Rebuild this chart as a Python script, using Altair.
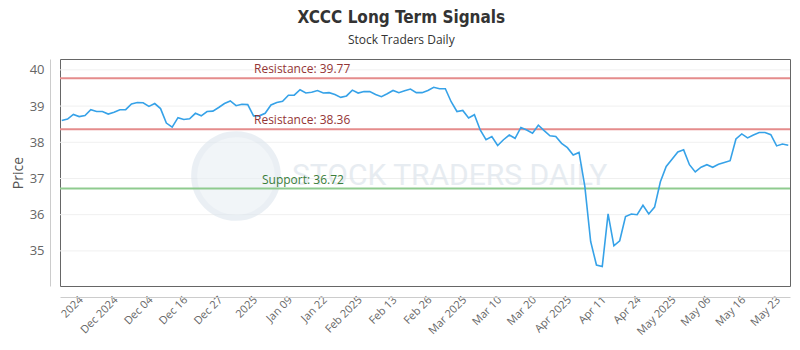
import altair as alt
import pandas as pd

prices = [
    38.60, 38.64, 38.77, 38.71, 38.74, 38.90, 38.85, 38.85, 38.78, 38.83,
    38.90, 38.90, 39.06, 39.10, 39.09, 38.99, 39.07, 38.93, 38.53, 38.42,
    38.68, 38.63, 38.65, 38.80, 38.73, 38.85, 38.86, 38.96, 39.07, 39.14,
    39.01, 39.05, 39.04, 38.73, 38.73, 38.80, 39.03, 39.10, 39.13, 39.30,
    39.30, 39.45, 39.36, 39.38, 39.43, 39.36, 39.37, 39.32, 39.24, 39.28,
    39.44, 39.36, 39.40, 39.40, 39.32, 39.26, 39.34, 39.43, 39.37, 39.42,
    39.47, 39.37, 39.37, 39.43, 39.52, 39.48, 39.48, 39.12, 38.85, 38.88,
    38.67, 38.76, 38.34, 38.07, 38.16, 37.91, 38.07, 38.20, 38.11, 38.41,
    38.34, 38.25, 38.47, 38.32, 38.18, 38.16, 37.97, 37.85, 37.65, 37.72,
    36.78, 35.26, 34.61, 34.57, 36.02, 35.14, 35.28, 35.95, 36.02, 36.00,
    36.26, 36.02, 36.21, 36.91, 37.33, 37.53, 37.73, 37.79, 37.38, 37.18,
    37.31, 37.38, 37.31, 37.39, 37.44, 37.49, 38.09, 38.23, 38.12, 38.20,
    38.27, 38.27, 38.21, 37.90, 37.95, 37.92,
]

tick_index = [4, 10, 16, 22, 28, 34, 40, 46, 52, 58, 64, 70, 76, 82, 88, 94, 100, 106, 112, 118, 124]
tick_labels = ["2024", "Dec 2024", "Dec 04", "Dec 16", "Dec 27", "2025", "Jan 09", "Jan 22",
               "Feb 2025", "Feb 13", "Feb 26", "Mar 2025", "Mar 10", "Mar 20", "Apr 2025",
               "Apr 11", "Apr 24", "May 2025", "May 06", "May 16", "May 23"]

resistance_values = [39.77, 38.36]
resistance_labels = ["Resistance: 39.77", "Resistance: 38.36"]
support_values = [36.72]
support_labels = ["Support: 36.72"]
grid_values = [35, 36, 37, 38, 39, 40]

df = pd.DataFrame({"i": list(range(len(prices))), "price": prices})
res_df = pd.DataFrame({"value": resistance_values, "label": resistance_labels})
sup_df = pd.DataFrame({"value": support_values, "label": support_labels})
grid_df = pd.DataFrame({"value": grid_values})

label_array = "[" + ",".join("'" + t + "'" for t in tick_labels) + "]"
label_expr = label_array + "[round((datum.value - 4) / 6)]"

xscale = alt.Scale(domain=[-0.3, 125.3], nice=False, zero=False)
yscale = alt.Scale(domain=[34.03, 40.30], nice=False, zero=False)

FONT = "Open Sans"

x_axis = alt.Axis(
    values=tick_index, labelExpr=label_expr, labelAngle=-45, labelAlign="right",
    labelBaseline="middle", labelFontSize=11, labelColor="#666", labelFont=FONT,
    ticks=False, grid=False, domainColor="#ccc", offset=11, title=None, labelPadding=1,
    labelOffset=-4, labelOverlap=False, labelBound=False, labelFlush=False,
)
y_axis = alt.Axis(
    values=grid_values, labelFontSize=13, labelColor="#666", labelFont=FONT,
    ticks=False, grid=False, domainColor="#ccc", offset=10, title="Price",
    titleFontSize=14, titleFontWeight="normal", titleColor="#555", titleFont=FONT,
    labelPadding=6, titlePadding=4,
)

grid = alt.Chart(grid_df).mark_rule(color="#f0f0f0", strokeWidth=1).encode(
    y=alt.Y("value:Q", scale=yscale, axis=y_axis)
)

logo = alt.Chart(grid_df.head(1)).mark_point(
    shape="circle", filled=True, fill="#e9eff4", stroke="#dde6ee", strokeWidth=6, opacity=0.6
).encode(x=alt.value(176), y=alt.value(117), size=alt.value(7000))

watermark = alt.Chart(grid_df.head(1)).mark_text(
    text="STOCK TRADERS DAILY", font="Roboto", fontSize=30, color="#dde5ec",
    opacity=0.7, align="left", baseline="middle"
).encode(x=alt.value(232), y=alt.value(117))

res_rule = alt.Chart(res_df).mark_rule(color="#e58c8c", strokeWidth=2).encode(
    y=alt.Y("value:Q", scale=yscale)
)
sup_rule = alt.Chart(sup_df).mark_rule(color="#8fcb8f", strokeWidth=2).encode(
    y=alt.Y("value:Q", scale=yscale)
)
res_text = alt.Chart(res_df).mark_text(
    align="left", baseline="bottom", dy=-2, fontSize=12, font=FONT, color="#943535"
).encode(x=alt.value(194), y=alt.Y("value:Q", scale=yscale), text="label:N")
sup_text = alt.Chart(sup_df).mark_text(
    align="left", baseline="bottom", dy=-2, fontSize=12, font=FONT, color="#3a7d3a"
).encode(x=alt.value(202), y=alt.Y("value:Q", scale=yscale), text="label:N")

line = alt.Chart(df).mark_line(color="#36a2e8", strokeWidth=1.6).encode(
    x=alt.X("i:Q", scale=xscale, axis=x_axis),
    y=alt.Y("price:Q", scale=yscale),
)

chart = alt.layer(
    grid, logo, watermark, res_rule, sup_rule, line, res_text, sup_text
).properties(
    width=730, height=227,
    title=alt.TitleParams(
        "XCCC Long Term Signals", subtitle="Stock Traders Daily", anchor="middle",
        frame="bounds", fontSize=17, fontWeight="bold", color="#333",
        font="DejaVu Sans Condensed", subtitleFont=FONT, subtitleFontSize=12,
        subtitleColor="#333", subtitlePadding=8, offset=12,
    ),
    autosize=alt.AutoSizeParams(type="none"),
    padding={"left": 52, "top": 51, "right": 2, "bottom": 63},
).configure_view(stroke="#666", strokeWidth=1)

chart.save("out.html", embed_options={"renderer": "svg", "actions": False})
